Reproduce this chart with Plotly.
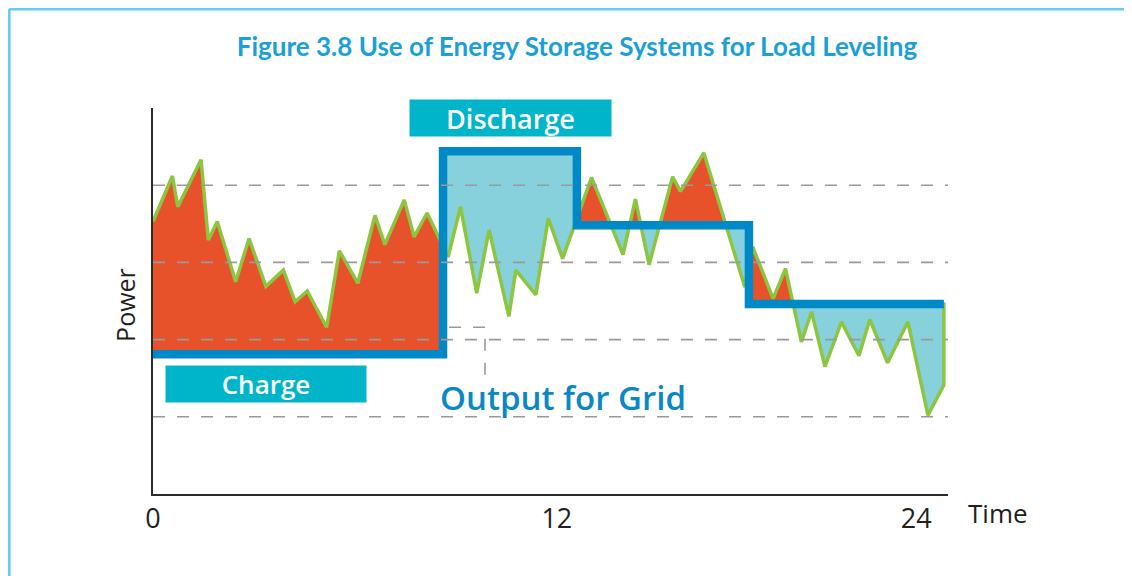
import numpy as np
import plotly.graph_objects as go

# ---------------- data ----------------
# Load (demand) curve: time in hours, power in arbitrary units
LOAD_T = [0.00, 0.61, 0.78, 1.51, 1.74, 2.02, 2.60, 3.02, 3.55, 4.10,
          4.47, 4.85, 5.46, 5.86, 6.44, 6.98, 7.29, 7.90, 8.21, 8.62,
          9.28, 9.67, 10.18, 10.57, 11.19, 11.41, 12.04, 12.43, 12.88, 13.79,
          14.78, 15.17, 15.60, 16.34, 16.59, 17.32, 18.61, 18.86, 19.50, 19.89,
          20.39, 20.71, 21.13, 21.65, 22.20, 22.54, 23.10, 23.74, 24.37, 24.87]
LOAD_P = [3.53, 4.12, 3.72, 4.33, 3.29, 3.53, 2.75, 3.31, 2.69, 2.90,
          2.49, 2.63, 2.16, 3.15, 2.73, 3.61, 3.23, 3.81, 3.33, 3.64,
          3.07, 3.72, 2.60, 3.42, 2.30, 2.90, 2.58, 3.57, 3.05, 4.10,
          3.10, 3.82, 2.97, 4.11, 3.92, 4.42, 2.68, 3.20, 2.53, 2.92,
          1.97, 2.36, 1.65, 2.23, 1.79, 2.26, 1.70, 2.23, 1.02, 1.41]

# Output for grid: step boundaries (hours) and level in each step
OUT_T = [0.00, 9.12, 13.33, 18.74, 24.87]
OUT_P = [1.81, 4.44, 3.48, 2.46]

GRID_P = [1, 2, 3, 4]
TICK_T = [0, 12.7, 24]
TICK_TEXT = ["0", "12", "24"]

# ---------------- colours ----------------
RED = "#e8522b"
LIGHTBLUE = "#86d1dc"
GREEN = "#8cc63f"
BLUE = "#0089c7"
TEAL = "#00b5c9"
TITLE_C = "#1b9fd6"
DARK = "#231f20"
GRID_C = "#9a9a9a"


def pieces(keep_above):
    """Polygons between the load curve and each output level."""
    xs_all, ys_all = [], []
    for k, level in enumerate(OUT_P):
        x0, x1 = OUT_T[k], OUT_T[k + 1]
        xs = [x0] + [t for t in LOAD_T if x0 < t < x1] + [x1]
        ds = list(np.interp(xs, LOAD_T, LOAD_P))
        px, py = [xs[0]], [ds[0]]
        for i in range(1, len(xs)):
            a, b = ds[i - 1] - level, ds[i] - level
            if a * b < 0:
                xc = xs[i - 1] + (xs[i] - xs[i - 1]) * a / (a - b)
                px.append(xc)
                py.append(level)
            px.append(xs[i])
            py.append(ds[i])
        if keep_above:
            top = [max(v, level) for v in py]
        else:
            top = [min(v, level) for v in py]
        xs_all += px + [x1, x0, None]
        ys_all += top + [level, level, None]
    return xs_all, ys_all


fig = go.Figure()

rx, ry = pieces(True)
fig.add_trace(go.Scatter(x=rx, y=ry, mode="lines", fill="toself",
                         fillcolor=RED, line=dict(color=GREEN, width=3.5),
                         hoverinfo="skip", showlegend=False))
bx, by = pieces(False)
fig.add_trace(go.Scatter(x=bx, y=by, mode="lines", fill="toself",
                         fillcolor=LIGHTBLUE, line=dict(color=GREEN, width=3.5),
                         hoverinfo="skip", showlegend=False))
fig.add_trace(go.Scatter(x=OUT_T, y=OUT_P + [OUT_P[-1]], mode="lines",
                         line=dict(shape="hv", color=BLUE, width=8.5),
                         hoverinfo="skip", showlegend=False))

dash_line = dict(color=GRID_C, width=1.6, dash="12px,12px")
shapes = []
for g in GRID_P:
    shapes.append(dict(type="line", xref="paper", x0=0, x1=1, yref="y",
                       y0=g, y1=g, layer="above", line=dash_line))
# leader lines for the "Output for Grid" label
shapes.append(dict(type="line", xref="x", yref="y", x0=9.31, x1=10.44,
                   y0=2.16, y1=2.16, layer="above", line=dash_line))
shapes.append(dict(type="line", xref="x", yref="y", x0=10.44, x1=10.44,
                   y0=2.01, y1=1.54, layer="above", line=dash_line))
# page border (top and left edges)
border = dict(color="#62cff0", width=3)
shapes.append(dict(type="line", xref="paper", yref="paper",
                   x0=-0.181, x1=1.5, y0=1.2565, y1=1.2565, layer="below",
                   line=border))
shapes.append(dict(type="line", xref="paper", yref="paper",
                   x0=-0.181, x1=-0.181, y0=1.2565, y1=-0.5, layer="below",
                   line=border))

annotations = [
    dict(text="Charge", x=3.565, y=1.425, xref="x", yref="y",
         showarrow=False, bgcolor=TEAL, width=200, height=36, borderpad=0,
         font=dict(family="Open Sans", size=26, color="white", weight=600)),
    dict(text="Discharge", x=11.24, y=4.87, xref="x", yref="y",
         showarrow=False, bgcolor=TEAL, width=201, height=36, borderpad=0,
         font=dict(family="Open Sans", size=27, color="white", weight=600)),
    dict(text="Output for Grid", x=8.96, y=1.25, xref="x", yref="y",
         xanchor="left", yanchor="middle", showarrow=False,
         font=dict(family="Open Sans", size=33, color="#0a88c6", weight=600)),
    dict(text="Time", x=1.0625, y=-0.049, xref="paper", yref="paper",
         xanchor="center", yanchor="middle", showarrow=False,
         font=dict(family="Open Sans", size=26, color=DARK)),
    dict(text="Power", x=-0.0352, y=0.49, xref="paper", yref="paper",
         xanchor="center", yanchor="middle", textangle=-90, showarrow=False,
         font=dict(family="Open Sans", size=25, color=DARK)),
]

# the page adds an 8px body margin, so the figure is 8px smaller
fig.update_layout(
    width=1124, height=568, autosize=False,
    margin=dict(l=145, r=184, t=100, b=82),
    paper_bgcolor="white", plot_bgcolor="white",
    title=dict(text="Figure 3.8 Use of Energy Storage Systems for Load Leveling",
               xref="container", x=569 / 1124, xanchor="center",
               yref="container", y=1 - 39 / 568, yanchor="middle",
               font=dict(family="Lato", size=26, color=TITLE_C, weight="bold")),
    xaxis=dict(range=[0, 25.0], showline=True, linecolor="#2b2b2b",
               linewidth=1.6, showgrid=False, zeroline=False, ticks="",
               tickvals=TICK_T, ticktext=TICK_TEXT,
               tickfont=dict(family="Open Sans", size=27, color=DARK),
               fixedrange=True),
    yaxis=dict(range=[0, 5.0], showline=True, linecolor="#2b2b2b",
               linewidth=1.6, showgrid=False, zeroline=False, ticks="",
               showticklabels=False, fixedrange=True),
    shapes=shapes,
    annotations=annotations,
)

fig.write_html("out.html", config={"displayModeBar": False})
